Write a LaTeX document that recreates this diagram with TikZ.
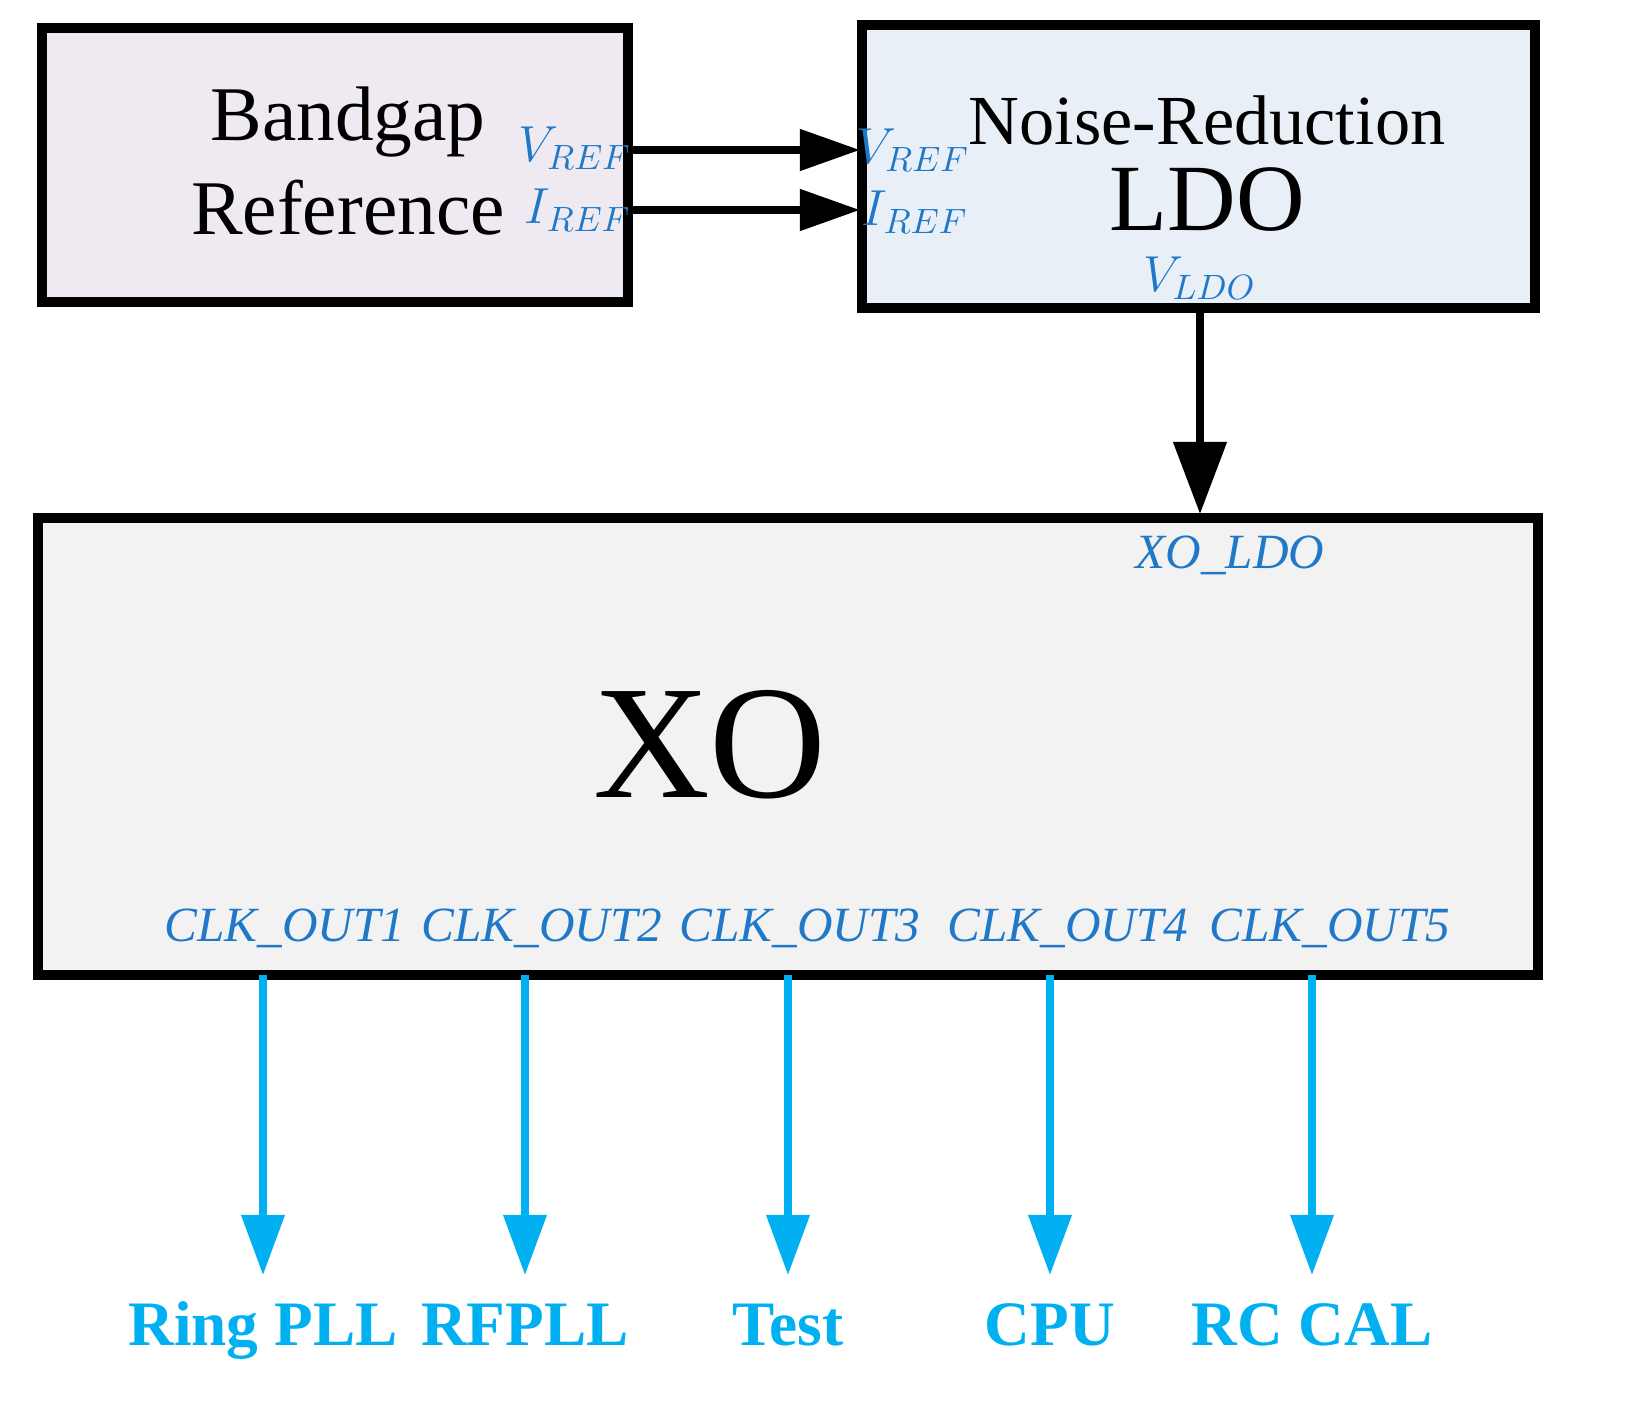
\documentclass[tikz,border=0pt]{standalone}
\usepackage{fontspec}
\setmainfont{Liberation Serif}
\usetikzlibrary{positioning,arrows.meta}
\definecolor{pinblue}{HTML}{1F78C8}
\definecolor{clkblue}{HTML}{00B0F0}
\tikzset{
  block/.style={draw=black,line width=3pt},
  pin/.style={text=pinblue,font=\fontsize{14}{14}\selectfont\itshape,inner sep=0pt},
  bus/.style={line width=2.2pt,-{Triangle[length=0.6cm,width=0.4cm]}},
  clk/.style={draw=clkblue,line width=2pt,-{Triangle[length=0.6cm,width=0.42cm]}},
  dest/.style={text=clkblue,font=\fontsize{18}{18}\selectfont\bfseries,inner sep=0pt,anchor=base}
}
\begin{document}
\begin{tikzpicture}[x=0.01cm,y=-0.01cm]
  \useasboundingbox (0,0) rectangle (1627,1413);

  %blocks
  \draw[block,fill={rgb,255:red,239;green,234;blue,241}] (42,28) rectangle (628,302);
  \draw[block,fill={rgb,255:red,232;green,239;blue,247}] (862,25) rectangle (1535,308);
  \draw[block,fill={rgb,255:red,242;green,242;blue,242}] (38,518) rectangle (1538,975);

  \node[font=\fontsize{22}{22}\selectfont] (bg1) at (348,122) {Bandgap};
  \node[font=\fontsize{22}{22}\selectfont] (bg2) at (348,208) {Reference};
  \node[font=\fontsize{20}{20}\selectfont] (nr) at (1207,120) {Noise-Reduction};
  \node[font=\fontsize{27}{27}\selectfont,inner sep=0pt] (ldo) at (1207,200) {LDO};
  \node[font=\fontsize{46}{46}\selectfont] (xo) at (710,745) {XO};

  %pins
  \node[pin] (bgv) at (575,148) {$V_{REF}$};
  \node[pin] (bgi) at (578,210) {$I_{REF}$};
  \node[pin] (ldov) at (913,150) {$V_{REF}$};
  \node[pin] (ldoi) at (915,212) {$I_{REF}$};
  \node[pin] (vldo) at (1200,278) {$V_{LDO}$};
  \node[pin] (xoldo) at (1230,555) {XO\_LDO};

  \coordinate (v0) at (628,150);  \coordinate (v1) at (860,150);
  \coordinate (i0) at (628,210);  \coordinate (i1) at (860,210);
  \coordinate (l0) at (1200,308); \coordinate (l1) at (1200,514);
  \draw[bus] (v0) -- (v1);
  \draw[bus] (i0) -- (i1);
  \draw[line width=2.2pt,-{Triangle[length=0.72cm,width=0.52cm]}] (l0) -- (l1);

  %clock outputs
  \foreach \n/\x/\lx/\dest in {1/263/285/Ring PLL,2/525/542/RFPLL,3/788/800/Test,4/1050/1068/CPU,5/1312/1330/RC CAL} {
    \node[pin] (out\n) at (\lx,928) {CLK\_OUT\n};
    \coordinate (s\n) at (\x,975);
    \node[dest] (d\n) at (\x,1345) {\dest};
    \draw[clk] (s\n) -- (\x,1275);
  }
\end{tikzpicture}
\end{document}
